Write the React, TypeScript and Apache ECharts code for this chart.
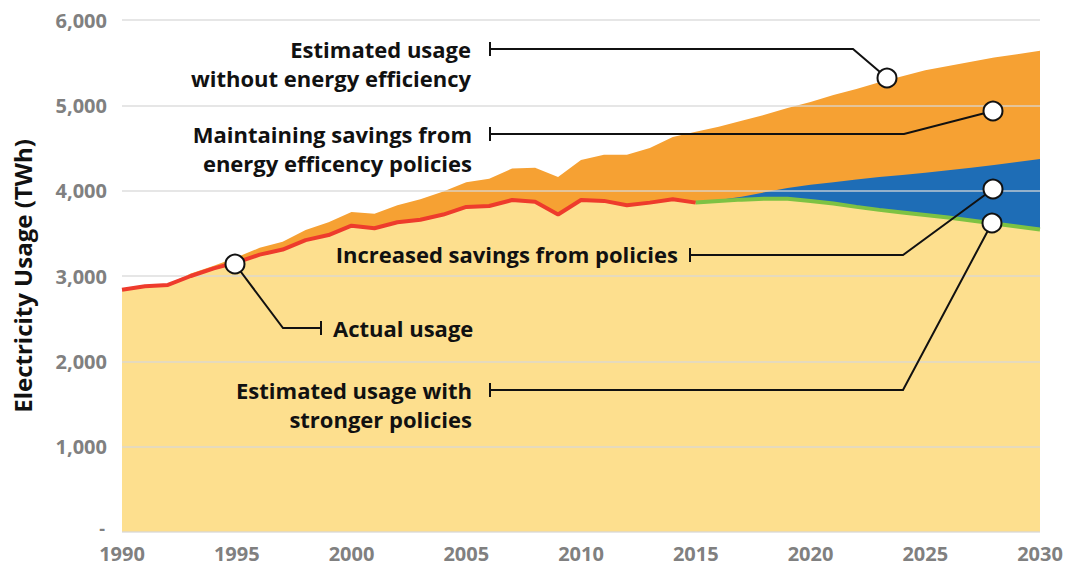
import React, { useEffect, useRef } from "react";
import * as echarts from "echarts";

const years = [
  1990, 1991, 1992, 1993, 1994, 1995, 1996, 1997, 1998, 1999,
  2000, 2001, 2002, 2003, 2004, 2005, 2006, 2007, 2008, 2009,
  2010, 2011, 2012, 2013, 2014, 2015, 2016, 2017, 2018, 2019,
  2020, 2021, 2022, 2023, 2024, 2025, 2026, 2027, 2028, 2029, 2030,
];

// 1990-2015
const actualUsage = [
  2840, 2880, 2895, 3000, 3090, 3160, 3250, 3310, 3420, 3480,
  3590, 3560, 3630, 3660, 3720, 3810, 3820, 3890, 3870, 3720,
  3890, 3880, 3830, 3860, 3900, 3860,
];

// 1990-2030
const withoutEfficiency = [
  2840, 2885, 2905, 3030, 3120, 3220, 3330, 3400, 3540, 3630,
  3750, 3730, 3830, 3900, 3990, 4100, 4140, 4260, 4270, 4160,
  4360, 4420, 4420, 4500, 4630, 4690, 4750, 4820, 4890, 4970,
  5040, 5120, 5190, 5270, 5340, 5410, 5460, 5510, 5560, 5600, 5640,
];

// 2015-2030
const maintainingSavings = [
  3870, 3890, 3930, 3980, 4030, 4070, 4100, 4130, 4160, 4185,
  4210, 4240, 4270, 4300, 4335, 4370,
];

// 2015-2030
const strongerPolicies = [
  3860, 3880, 3895, 3905, 3905, 3880, 3850, 3810, 3775, 3745,
  3715, 3685, 3650, 3615, 3580, 3545,
];

const yTickLabels = ["-", "1,000", "2,000", "3,000", "4,000", "5,000", "6,000"];
const xTickLabels = ["1990", "1995", "2000", "2005", "2010", "2015", "2020", "2025", "2030"];

const FONT = '"Open Sans", "Noto Sans", sans-serif';

export default function App() {
  const ref = useRef<HTMLDivElement>(null);

  useEffect(() => {
    document.body.style.margin = "0";
    const chart = echarts.init(ref.current!, null, { renderer: "svg" });

    const forecastStart = years.indexOf(2015);
    const pairs = (vals: number[], offset: number) =>
      vals.map((v, i) => [years[i + offset], v]);

    const baseArea = [
      ...pairs(actualUsage, 0),
      ...pairs(strongerPolicies.slice(1), forecastStart + 1),
    ];

    const textStyle = (text: string, x: number, y: number, align: string) => ({
      type: "text",
      z: 100,
      x,
      y,
      style: {
        text,
        fill: "#111",
        font: `bold 22px ${FONT}`,
        align,
        verticalAlign: "middle",
        lineHeight: 29,
      },
    });

    const leader = (pts: number[][]) => ({
      type: "polyline",
      z: 100,
      shape: { points: pts },
      style: { stroke: "#111", lineWidth: 2, fill: "none" },
    });
    const tick = (x: number, y: number) => ({
      type: "line",
      z: 100,
      shape: { x1: x, y1: y - 7, x2: x, y2: y + 7 },
      style: { stroke: "#111", lineWidth: 2 },
    });
    const dot = (x: number, y: number) => ({
      type: "circle",
      z: 101,
      shape: { cx: x, cy: y, r: 9.5 },
      style: { fill: "#fff", stroke: "#111", lineWidth: 2 },
    });

    chart.setOption({
      animation: false,
      grid: { left: 122, right: 27, top: 20, bottom: 35, containLabel: false },
      xAxis: {
        type: "value",
        min: 1990,
        max: 2030,
        interval: 5,
        axisLine: { show: false },
        axisTick: { show: false },
        splitLine: { show: false },
        axisLabel: {
          color: "#808080",
          fontFamily: FONT,
          fontWeight: "bold",
          fontSize: 20,
          lineHeight: 16,
          margin: 13,
          formatter: (v: number) => xTickLabels[(v - 1990) / 5] ?? "",
        },
      },
      yAxis: {
        type: "value",
        min: 0,
        max: 6000,
        interval: 1000,
        z: 3,
        name: "Electricity Usage (TWh)",
        nameLocation: "middle",
        nameGap: 88,
        nameTextStyle: {
          color: "#111",
          fontFamily: FONT,
          fontWeight: "bold",
          fontSize: 24,
        },
        axisLine: { show: false },
        axisTick: { show: false },
        splitLine: { lineStyle: { color: "rgba(215,215,215,0.85)", width: 1.5 } },
        axisLabel: {
          color: "#808080",
          fontFamily: FONT,
          fontWeight: "bold",
          fontSize: 20,
          lineHeight: 16,
          margin: 15,
          formatter: (v: number) =>
            v === 0 ? "{dash|" + yTickLabels[0] + "}" : yTickLabels[v / 1000] ?? "",
          rich: {
            dash: {
              color: "#808080",
              fontFamily: FONT,
              fontWeight: "bold",
              fontSize: 18,
              lineHeight: 14,
              padding: [0, 2, 8, 0],
            },
          },
        },
      },
      series: [
        {
          name: "Estimated usage without energy efficiency",
          type: "line",
          data: pairs(withoutEfficiency, 0),
          symbol: "none",
          lineStyle: { width: 0 },
          areaStyle: { color: "#F6A133", opacity: 1 },
          z: 1,
        },
        {
          name: "Maintaining savings",
          type: "line",
          data: pairs(maintainingSavings, forecastStart),
          symbol: "none",
          lineStyle: { width: 0 },
          areaStyle: { color: "#1E6DB6", opacity: 1 },
          z: 1,
        },
        {
          name: "Base",
          type: "line",
          data: baseArea,
          symbol: "none",
          lineStyle: { width: 0 },
          areaStyle: { color: "#FDDF8E", opacity: 1 },
          z: 1,
        },
        {
          name: "Actual usage",
          type: "line",
          data: pairs(actualUsage, 0),
          symbol: "none",
          lineStyle: { width: 4, color: "#EE3B2C" },
          z: 4,
        },
        {
          name: "Estimated usage with stronger policies",
          type: "line",
          data: pairs(strongerPolicies, forecastStart),
          symbol: "none",
          lineStyle: { width: 4, color: "#7DC243" },
          z: 4,
        },
      ],
      graphic: [
        leader([[490, 49], [853, 49], [887, 78]]),
        tick(490, 49),
        dot(887, 78),
        leader([[490, 134], [904, 134], [993, 111]]),
        tick(490, 134),
        dot(993, 111),
        leader([[690, 255], [903, 255], [993, 189]]),
        tick(690, 255),
        dot(993, 189),
        leader([[490, 390], [903, 390], [992, 223]]),
        tick(490, 390),
        dot(992, 223),
        leader([[321, 328], [283, 328], [235, 264]]),
        tick(321, 328),
        dot(235, 264),
        textStyle("Estimated usage\nwithout energy efficiency", 471, 63, "right"),
        textStyle("Maintaining savings from\nenergy efficency policies", 472, 148, "right"),
        textStyle("Increased savings from policies", 678, 254, "right"),
        textStyle("Actual usage", 333, 328, "left"),
        textStyle("Estimated usage with\nstronger policies", 472, 404, "right"),
      ],
    });

    return () => chart.dispose();
  }, []);

  return (
    <div
      ref={ref}
      style={{ position: "absolute", left: 0, top: 0, width: 1067, height: 567, background: "#fff" }}
    />
  );
}
